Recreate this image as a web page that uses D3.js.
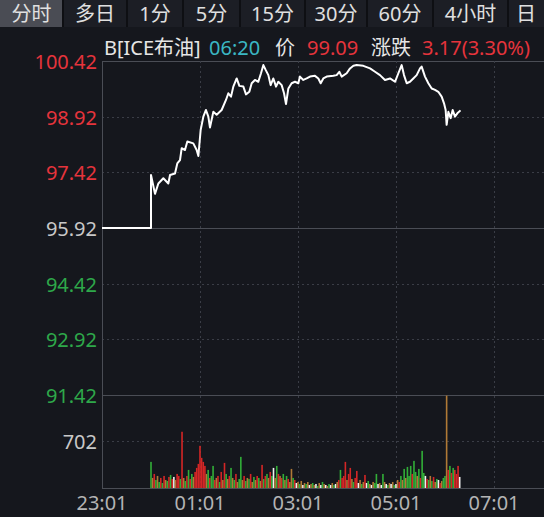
<!DOCTYPE html>
<html><head><meta charset="utf-8">
<script src="https://cdn.jsdelivr.net/npm/d3@7"></script>
<style>
html,body{margin:0;padding:0;background:#15171d;}
svg{display:block;font-family:"Noto Sans","Noto Sans CJK SC",sans-serif;}
</style></head>
<body>
<svg id="c" width="544" height="517"></svg>
<script>
// ---- data ----
const tabs = ["分时","多日","1分","5分","15分","30分","60分","4小时","日"];
const priceTicks = [100.42, 98.92, 97.42, 95.92, 94.42, 92.92, 91.42];
const prevClose = 95.92;
const volTickLabel = "702";
const volTickValue = 702;
const timeTicks = ["23:01","01:01","03:01","05:01","07:01"];
const timeTickMinutes = [0,120,240,360,480];
// minutes after 23:01
const priceMinutes = [0,60,60,64.9,69,75.1,81.2,83.3,89.4,92.2,95.5,97.6,101.6,104.5,111.8,115.9,118,120.8,124.1,127.3,130.2,132.2,136.3,140.4,146.5,151.8,154.7,158,160.8,164.9,168.2,173.1,176.3,180.4,183.3,187.3,191.4,194.7,197.6,200.4,203.7,206.5,209.8,213.1,215.9,220,222.9,225.3,228.2,232.2,236.3,240.4,242.4,246.5,250.6,254.7,260.8,264.9,267.8,271,275.1,283.3,287.3,290.6,293.5,299.6,303.7,307.8,311.8,320,328.2,334.3,340.4,346.5,352.7,358.8,362.9,366.9,369.8,373.1,377.1,381.2,385.3,389.4,391.4,395.5,399.6,403.7,407.8,411.8,415.9,418.8,420.8,422,424.1,426.9,429.4,432.2,435.1,439];
const prices = [95.92,95.92,97.35,96.84,97.12,97.26,97.12,97.35,97.39,97.66,97.75,98.07,98.02,98.25,98.20,98.02,97.86,98.56,98.92,99.10,98.92,98.63,99.05,98.97,99.10,99.37,99.55,99.46,99.73,99.95,99.75,99.73,99.52,99.59,99.82,99.91,99.86,100.09,100.31,100.18,100.04,99.77,99.95,99.73,99.86,99.77,99.55,99.26,99.68,99.82,99.86,99.82,100.00,99.91,99.95,100.00,100.02,99.95,99.82,99.95,100.00,100.02,100.04,100.13,100.00,100.09,100.22,100.29,100.31,100.29,100.22,100.13,100.04,99.91,99.95,99.86,100.09,100.31,100.04,99.82,99.86,99.95,100.04,100.22,100.27,100.00,99.82,99.68,99.64,99.59,99.46,99.28,99.10,98.70,99.05,98.88,99.10,98.92,99.01,99.09];
// volume, 2-minute buckets starting at minute 60
const volStartMinute = 60;
const volStep = 2;
const volumes = [390,150,210,120,180,90,150,75,180,120,105,165,195,135,165,120,210,180,135,840,
150,105,180,270,135,210,165,240,300,360,630,450,390,330,210,270,150,180,330,120,
150,180,90,240,120,375,210,135,180,300,150,120,210,90,135,465,120,180,105,150,
135,210,90,165,120,180,150,105,345,135,180,210,150,240,180,300,150,330,210,180,
150,210,120,180,135,90,285,150,120,75,90,60,105,45,75,60,90,45,60,75,
45,60,30,75,45,90,60,45,30,60,45,75,45,60,90,120,270,150,180,390,
120,210,300,135,90,150,255,75,120,60,90,195,75,105,60,45,90,75,210,60,
75,45,210,90,60,45,75,60,90,45,60,120,90,180,120,285,150,315,180,330,
210,405,240,180,285,150,555,225,180,135,120,180,105,165,90,135,120,75,105,150,
180,1380,270,330,225,300,270,210,330,165];
const volColors = ("gorgogrgrogrgrworrgr"+"ogrgrgorrrrrrrogrggr"+"orgrorgorgogroggorgo"+
"grogorgorgrgorgwogro"+"rgogroogrwogowogowog"+"owgowgowogwogworgrrr"+
"orrogrrwogorwgowoggw"+"owgowgowogworgogoggg"+"rggogrggwrgogrogwrog"+"gorgrgrrrw").split("");
const header = [
  {t:"B[ICE布油]", c:"#e6e6e6"},
  {t:"06:20", c:"#3bb7c4"},
  {t:"价", c:"#e6e6e6"},
  {t:"99.09", c:"#e5343c"},
  {t:"涨跌", c:"#e6e6e6"},
  {t:"3.17(3.30%)", c:"#e5343c"}
];

// ---- layout ----
const svg = d3.select("#c");
const L = 102, R = 543, T = 61, PB = 395, VT = 394, VB = 488;
const x = d3.scaleLinear().domain([0,540]).range([L,R]);
const y = d3.scaleLinear().domain([91.42,100.42]).range([PB,T]);
const yv = d3.scaleLinear().domain([0,1404]).range([VB,VT]);

svg.append("rect").attr("width",544).attr("height",517).attr("fill","#15171d");

// tabs
const tabX = [0,63,127,183,240,305,367,433,508,544];
svg.append("rect").attr("x",0).attr("y",0).attr("width",544).attr("height",27).attr("fill","#1c1e25");
svg.append("rect").attr("x",0).attr("y",0).attr("width",63).attr("height",27).attr("fill","#4a4c54");
tabs.forEach((t,i)=>{
  const cx = (tabX[i]+tabX[i+1])/2;
  svg.append("text").attr("x",cx).attr("y",21).attr("text-anchor","middle")
    .attr("font-size",20).attr("fill","#e0e0e0").text(t);
  if(i>0) svg.append("rect").attr("x",tabX[i]-1).attr("y",0).attr("width",2).attr("height",27).attr("fill","#0e0f13");
});

// header text
const hx = [104,209,275,307,371,422];
header.forEach((h,i)=>{
  svg.append("text").attr("x",hx[i]).attr("y",55).attr("font-size",20).attr("fill",h.c).text(h.t);
});

// grid
const g = svg.append("g");
const solid = "#4a4d55", dotted = "#3a3d46";
priceTicks.forEach(v=>{
  const isSolid = (v===100.42||v===prevClose||v===91.42);
  g.append("line").attr("x1",L).attr("x2",544).attr("y1",Math.round(y(v))+0.5).attr("y2",Math.round(y(v))+0.5)
    .attr("stroke",isSolid?solid:dotted).attr("stroke-dasharray",isSolid?null:"2,3");
});
g.append("line").attr("x1",L).attr("x2",544).attr("y1",Math.round(yv(volTickValue))+0.5).attr("y2",Math.round(yv(volTickValue))+0.5)
  .attr("stroke",dotted).attr("stroke-dasharray","2,3");
timeTickMinutes.slice(1).forEach(m=>{
  g.append("line").attr("x1",Math.round(x(m))+0.5).attr("x2",Math.round(x(m))+0.5).attr("y1",T).attr("y2",VB)
    .attr("stroke",dotted).attr("stroke-dasharray","2,3");
});
g.append("line").attr("x1",L+0.5).attr("x2",L+0.5).attr("y1",T).attr("y2",VB).attr("stroke",solid);
g.append("line").attr("x1",L).attr("x2",544).attr("y1",VB+0.5).attr("y2",VB+0.5).attr("stroke",solid);

// y labels
priceTicks.forEach(v=>{
  const col = v>prevClose?"#e5343c":(v<prevClose?"#2ea84a":"#c8c8c8");
  svg.append("text").attr("x",97).attr("y",y(v)+8).attr("text-anchor","end").attr("font-size",20)
    .attr("fill",col).text(v.toFixed(2));
});
svg.append("text").attr("x",97).attr("y",yv(volTickValue)+8).attr("text-anchor","end").attr("font-size",20)
  .attr("fill","#c8c8c8").text(volTickLabel);

// x labels
timeTicks.forEach((t,i)=>{
  svg.append("text").attr("x",x(timeTickMinutes[i])).attr("y",510).attr("text-anchor","middle")
    .attr("font-size",20).attr("fill","#b4b4b4").text(t);
});

// volume bars
const colMap = {r:"#d42626", g:"#32ae38", o:"#b07a36", w:"#f0f0f0"};
svg.append("g").selectAll("rect").data(volumes).join("rect")
  .attr("x",(d,i)=>x(volStartMinute+i*volStep)-0.8)
  .attr("width",1.6)
  .attr("y",d=>yv(d))
  .attr("height",d=>VB-yv(d))
  .attr("fill",(d,i)=>colMap[volColors[i]]||"#b07a36");

// price line
const pts = priceMinutes.map((m,i)=>[m,prices[i]]);
svg.append("path").datum(pts)
  .attr("d",d3.line().x(d=>x(d[0])).y(d=>y(d[1])))
  .attr("fill","none").attr("stroke","#ffffff").attr("stroke-width",2).attr("stroke-linejoin","round");
</script>
</body></html>
